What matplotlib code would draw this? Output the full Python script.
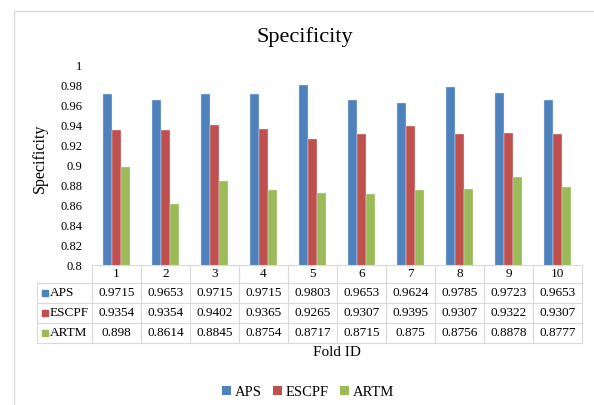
import numpy as np
import matplotlib
matplotlib.use("Agg")
import matplotlib.pyplot as plt
from matplotlib.patches import Rectangle, Patch

plt.rcParams['font.family'] = ['Liberation Serif', 'DejaVu Serif']

folds = ['1', '2', '3', '4', '5', '6', '7', '8', '9', '10']
series = ['APS', 'ESCPF', 'ARTM']
aps = [0.9715, 0.9653, 0.9715, 0.9715, 0.9803, 0.9653, 0.9624, 0.9785, 0.9723, 0.9653]
escpf = [0.9354, 0.9354, 0.9402, 0.9365, 0.9265, 0.9307, 0.9395, 0.9307, 0.9322, 0.9307]
artm = [0.898, 0.8614, 0.8845, 0.8754, 0.8717, 0.8715, 0.875, 0.8756, 0.8878, 0.8777]
colors = ['#4F81BD', '#C0504D', '#9BBB59']

W, H = 594, 405
fig = plt.figure(figsize=(W / 100, H / 100), dpi=100)

# chart area border (only left/top visible in the reference)
fig.add_artist(Rectangle((13.5 / W, -0.2), 1.2, 1 - 10.5 / H + 0.2,
                         transform=fig.transFigure, fill=False,
                         edgecolor='#D9D9D9', linewidth=1.0))

# plot area in pixels: x 92..582, y 65..265
ax = fig.add_axes([92 / W, 1 - 265 / H, 490 / W, 200 / H])

x = np.arange(len(folds))
bw = 0.19
for i, (vals, c) in enumerate(zip([aps, escpf, artm], colors)):
    ax.bar(x + (i - 1) * bw, vals, width=bw, color=c, edgecolor='#dfe6f0',
           linewidth=0.3, zorder=2)

ax.set_xlim(-0.5, len(folds) - 0.5)
ax.set_ylim(0.8, 1.0)
yt = np.round(np.arange(0.8, 1.0001, 0.02), 2)
ax.set_yticks(yt)
ax.set_yticklabels(['{:g}'.format(v) for v in yt], fontsize=9)
ax.set_xticks([])
ax.tick_params(axis='y', length=0, pad=7)
for s in ax.spines.values():
    s.set_visible(False)

# data table under the plot, drawn in axes fractions
n = len(folds)
left = -55 / 490                      # left edge of the row-label column
rows_y = [0, -18 / 200, -38 / 200, -58 / 200, -78 / 200]
grid = dict(color='#D9D9D9', linewidth=0.8, transform=ax.transAxes,
            clip_on=False, zorder=3)
ax.plot([0, 1], [0, 0], **grid)
for yy in rows_y[1:]:
    ax.plot([left, 1], [yy, yy], **grid)
for j in range(n + 1):
    ax.plot([j / n, j / n], [rows_y[0], rows_y[-1]], **grid)
ax.plot([left, left], [rows_y[1], rows_y[-1]], **grid)

for j, f in enumerate(folds):
    ax.text((j + 0.5) / n, (rows_y[0] + rows_y[1]) / 2, f, fontsize=9.5,
            ha='center', va='center', transform=ax.transAxes)

for i, (name, vals, c) in enumerate(zip(series, [aps, escpf, artm], colors)):
    yc = (rows_y[i + 1] + rows_y[i + 2]) / 2
    ax.plot([-47 / 490], [yc], marker='s', markersize=4.3, color=c,
            transform=ax.transAxes, clip_on=False, linestyle='none')
    ax.text(-42 / 490, yc, name, fontsize=9.5, ha='left', va='center',
            transform=ax.transAxes)
    for j, v in enumerate(vals):
        ax.text((j + 0.5) / n, yc, '{:g}'.format(v), fontsize=9.5,
                ha='center', va='center', transform=ax.transAxes)

fig.text(305 / W, 1 - 37 / H, 'Specificity', fontsize=16, ha='center', va='center')
fig.text(40 / W, 1 - 158 / H, 'Specificity', fontsize=11.5, rotation=90,
         ha='center', va='center')
fig.text(337 / W, 1 - 353 / H, 'Fold ID', fontsize=11, ha='center', va='center')

handles = [Patch(facecolor=c, edgecolor='none') for c in colors]
fig.legend(handles, series, loc='center', bbox_to_anchor=(308 / W, 1 - 392 / H),
           ncol=3, frameon=False, fontsize=10.5, handlelength=0.6,
           handleheight=0.6, handletextpad=0.25, columnspacing=0.8)

fig.savefig('out.png', dpi=100)
